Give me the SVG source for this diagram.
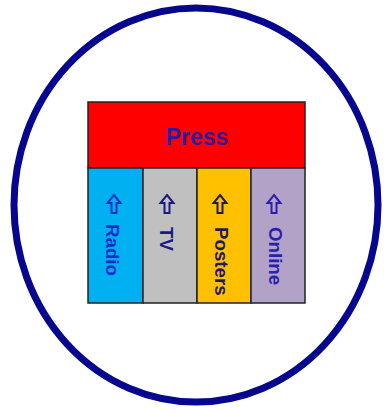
<svg xmlns="http://www.w3.org/2000/svg" width="384" height="410" viewBox="0 0 384 410">
  <style>
    .box { stroke: #222222; stroke-width: 1.5; }
    .vt { font-family: "Liberation Sans", Arial, sans-serif; font-weight: bold; font-size: 18.7px; }
    .ttl { font-family: "Liberation Sans", Arial, sans-serif; font-weight: bold; font-size: 23px; }
    .arr { fill: none; stroke-width: 2; stroke-linejoin: miter; }
  </style>
  <defs>
    <path id="uparrow" d="M0,0 L6.5,8 L2.5,8 L2.5,18 L-2.5,18 L-2.5,8 L-6.5,8 Z"/>
  </defs>
  <rect x="0" y="0" width="384" height="410" fill="#ffffff"/>
  <g id="frame">
    <ellipse cx="196" cy="205" rx="182" ry="197" fill="none" stroke="#06068f" stroke-width="7"/>
  </g>
  <g id="press">
    <rect class="box" x="88" y="102" width="217" height="66" fill="#ff0000"/>
    <text class="ttl" x="197" y="145" text-anchor="middle" fill="#2e1a9a">Press</text>
  </g>
  <g id="radio">
    <rect class="box" x="88" y="168" width="55" height="135" fill="#00b0f0"/>
    <use href="#uparrow" class="arr" stroke="#0a30c0" transform="translate(114,195)"/>
    <text class="vt" fill="#0b32c8" transform="translate(106,224) rotate(90)">Radio</text>
  </g>
  <g id="tv">
    <rect class="box" x="143" y="168" width="54" height="135" fill="#c0c0c0"/>
    <use href="#uparrow" class="arr" stroke="#1a1a80" transform="translate(167,195)"/>
    <text class="vt" fill="#1a1a80" transform="translate(160,227) rotate(90)">TV</text>
  </g>
  <g id="posters">
    <rect class="box" x="197" y="168" width="54" height="135" fill="#ffc000"/>
    <use href="#uparrow" class="arr" stroke="#1f1a5a" transform="translate(220,195)"/>
    <text class="vt" fill="#1f1a5a" transform="translate(215,227) rotate(90)">Posters</text>
  </g>
  <g id="online">
    <rect class="box" x="251" y="168" width="54" height="135" fill="#b3a2c7"/>
    <use href="#uparrow" class="arr" stroke="#2a1fb0" transform="translate(274,195)"/>
    <text class="vt" fill="#2a1fb0" transform="translate(269,227) rotate(90)">Online</text>
  </g>
  <g id="connectors"></g>
</svg>
